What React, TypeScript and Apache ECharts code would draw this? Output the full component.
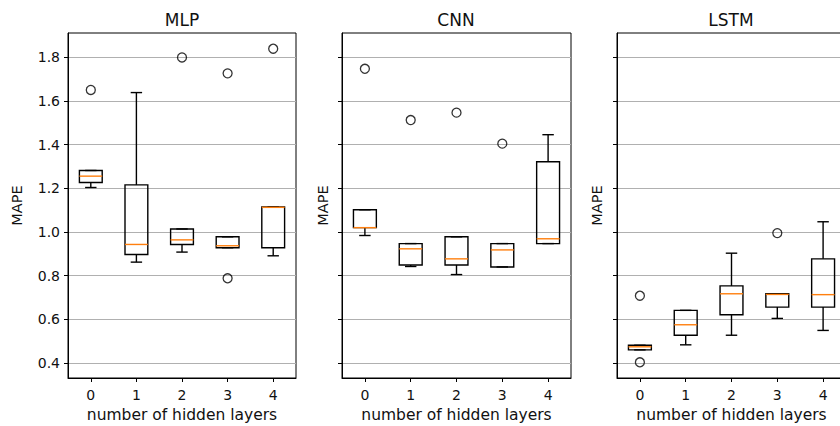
import React, { useEffect, useRef } from "react";
import * as echarts from "echarts";

// Hidden-layer counts shared by the three panels
const layerCounts = ["0", "1", "2", "3", "4"];
const yTicks = [0.4, 0.6, 0.8, 1.0, 1.2, 1.4, 1.6, 1.8];
const panelTitles = ["MLP", "CNN", "LSTM"];

// Box statistics per layer count: [lower whisker, Q1, median, Q3, upper whisker]
const mlpBoxes = [
  [1.204, 1.227, 1.256, 1.282, 1.282],
  [0.862, 0.897, 0.943, 1.216, 1.639],
  [0.908, 0.943, 0.964, 1.014, 1.014],
  [0.928, 0.928, 0.937, 0.978, 0.978],
  [0.891, 0.928, 1.113, 1.115, 1.115],
];
const cnnBoxes = [
  [0.984, 1.02, 1.02, 1.102, 1.102],
  [0.842, 0.849, 0.923, 0.947, 0.947],
  [0.805, 0.849, 0.877, 0.978, 0.978],
  [0.84, 0.84, 0.918, 0.947, 0.947],
  [0.947, 0.947, 0.969, 1.322, 1.446],
];
const lstmBoxes = [
  [0.46, 0.46, 0.474, 0.481, 0.481],
  [0.483, 0.527, 0.575, 0.641, 0.641],
  [0.527, 0.621, 0.717, 0.753, 0.903],
  [0.604, 0.656, 0.714, 0.717, 0.717],
  [0.549, 0.656, 0.713, 0.877, 1.047],
];

// Fliers: [layer index, value]
const mlpOutliers = [
  [0, 1.651],
  [2, 1.8],
  [3, 1.727],
  [3, 0.788],
  [4, 1.84],
];
const cnnOutliers = [
  [0, 1.748],
  [1, 1.513],
  [2, 1.547],
  [3, 1.405],
];
const lstmOutliers = [
  [0, 0.708],
  [0, 0.403],
  [3, 0.995],
];

const FONT = "DejaVu Sans";
const TEXT = "#111";
const Y_MIN = 0.331;
const Y_MAX = 1.912;

const panels = [
  { boxes: mlpBoxes, outliers: mlpOutliers, left: 68, width: 228, labels: true, nameGap: 43.5 },
  { boxes: cnnBoxes, outliers: cnnOutliers, left: 342, width: 229, labels: false, nameGap: 12 },
  { boxes: lstmBoxes, outliers: lstmOutliers, left: 617, width: 229, labels: false, nameGap: 13 },
];

function renderBox(_params: any, api: any) {
  const idx = api.value(0);
  const lo = api.coord([idx, api.value(1)]);
  const q1 = api.coord([idx, api.value(2)]);
  const med = api.coord([idx, api.value(3)]);
  const q3 = api.coord([idx, api.value(4)]);
  const hi = api.coord([idx, api.value(5)]);
  const band = api.size([1, 0])[0];
  const half = band * 0.25;
  const cap = band * 0.125;
  const cx = q1[0];
  const stroke = { stroke: "#000", lineWidth: 1.4, fill: "none" };
  return {
    type: "group",
    children: [
      { type: "line", shape: { x1: cx, y1: q1[1], x2: cx, y2: lo[1] }, style: stroke },
      { type: "line", shape: { x1: cx, y1: q3[1], x2: cx, y2: hi[1] }, style: stroke },
      { type: "line", shape: { x1: cx - cap, y1: lo[1], x2: cx + cap, y2: lo[1] }, style: stroke },
      { type: "line", shape: { x1: cx - cap, y1: hi[1], x2: cx + cap, y2: hi[1] }, style: stroke },
      {
        type: "rect",
        shape: { x: cx - half, y: q3[1], width: half * 2, height: q1[1] - q3[1] },
        style: stroke,
      },
      {
        type: "line",
        shape: { x1: cx - half, y1: med[1], x2: cx + half, y2: med[1] },
        style: { stroke: "#ff7f0e", lineWidth: 1.4 },
      },
    ],
  };
}

export default function App() {
  const ref = useRef<HTMLDivElement>(null);

  useEffect(() => {
    if (!ref.current) return;
    const chart = echarts.init(ref.current, undefined, { renderer: "svg" });

    const grid = panels.map((p) => ({
      left: p.left,
      top: 33,
      width: p.width,
      height: 345,
      outerBoundsMode: "none",
      containLabel: false,
      show: true,
      borderColor: "#000",
      borderWidth: 1,
      backgroundColor: "transparent",
    }));

    const xAxis = panels.map((_p, i) => ({
      type: "category",
      gridIndex: i,
      data: layerCounts,
      boundaryGap: true,
      name: "number of hidden layers",
      nameLocation: "middle",
      nameGap: 28,
      nameTextStyle: { fontFamily: FONT, fontSize: 15.5, color: TEXT },
      axisLine: { show: true, lineStyle: { color: "#000", width: 1 } },
      axisTick: { show: true, alignWithLabel: true, length: 4, lineStyle: { color: "#000" } },
      axisLabel: { fontFamily: FONT, fontSize: 14, color: TEXT, margin: 10 },
      splitLine: { show: false },
    }));

    const yAxis = panels.map((p, i) => ({
      type: "value",
      gridIndex: i,
      min: Y_MIN,
      max: Y_MAX,
      name: "MAPE",
      nameLocation: "middle",
      nameRotate: 90,
      nameGap: p.nameGap,
      nameTextStyle: { fontFamily: FONT, fontSize: 14.5, color: TEXT },
      axisLine: { show: true, lineStyle: { color: "#000", width: 1 } },
      axisTick: {
        show: true,
        length: 4,
        customValues: yTicks,
        lineStyle: { color: "#000" },
      },
      axisLabel: {
        show: p.labels,
        customValues: yTicks,
        fontFamily: FONT,
        fontSize: 14,
        color: TEXT,
        margin: 8,
        formatter: (v: number) => v.toFixed(1),
      },
      splitLine: { show: true, lineStyle: { color: "#b0b0b0", width: 1 } },
    }));

    const series: any[] = [];
    panels.forEach((p, i) => {
      series.push({
        type: "custom",
        xAxisIndex: i,
        yAxisIndex: i,
        renderItem: renderBox,
        encode: { x: 0, y: [1, 2, 3, 4, 5] },
        data: p.boxes.map((b, k) => [k, ...b]),
        z: 3,
      });
      series.push({
        type: "scatter",
        xAxisIndex: i,
        yAxisIndex: i,
        symbol: "circle",
        symbolSize: 9,
        itemStyle: { color: "rgba(0,0,0,0)", borderColor: "#000", borderWidth: 1.3 },
        data: p.outliers,
        z: 4,
      });
    });

    const graphic = panels.map((p, i) => ({
      type: "text",
      x: p.left + 228 / 2,
      y: 19.5,
      style: {
        text: panelTitles[i],
        fontFamily: FONT,
        fontSize: 17,
        fill: TEXT,
        textAlign: "center",
        textVerticalAlign: "middle",
      },
    }));

    chart.setOption({
      animation: false,
      backgroundColor: "#fff",
      grid,
      xAxis,
      yAxis,
      series,
      graphic,
    });

    return () => chart.dispose();
  }, []);

  return (
    <div
      ref={ref}
      style={{ position: "fixed", left: 0, top: 0, width: 840, height: 426 }}
    />
  );
}
